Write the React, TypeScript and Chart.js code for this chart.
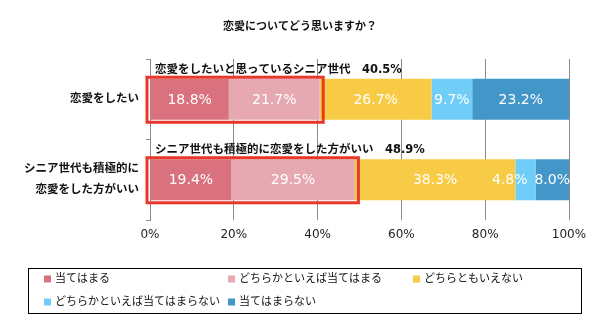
import React, { useEffect, useRef } from "react";
import { Chart, registerables } from "chart.js";

Chart.register(...registerables);

const titleText = "恋愛についてどう思いますか？";
const categories: string[][] = [["恋愛をしたい"], ["シニア世代も積極的に", "恋愛をした方がいい"]];
const seriesNames = [
  "当てはまる",
  "どちらかといえば当てはまる",
  "どちらともいえない",
  "どちらかといえば当てはまらない",
  "当てはまらない",
];
const atehamaru = [18.8, 19.4];
const dochirakaAtehamaru = [21.7, 29.5];
const dochiramoIenai = [26.7, 38.3];
const dochirakaAtehamaranai = [9.7, 4.8];
const atehamaranai = [23.2, 8.0];
const seriesColors = ["#D9727E", "#E6A9B2", "#F7CB46", "#70CDF8", "#4397C8"];
const xTickValues = [0, 20, 40, 60, 80, 100];
const highlightLabels = ["恋愛をしたいと思っているシニア世代", "シニア世代も積極的に恋愛をした方がいい"];

const FONT = '"DejaVu Sans", "Noto Sans CJK JP", sans-serif';

const overlayPlugin = {
  id: "overlay",
  afterDatasetsDraw(chart: any) {
    const ctx = chart.ctx;
    const area = chart.chartArea;
    ctx.save();

    // value labels
    ctx.font = `14px ${FONT}`;
    ctx.fillStyle = "#ffffff";
    ctx.textBaseline = "middle";
    chart.data.datasets.forEach((ds: any, di: number) => {
      const meta = chart.getDatasetMeta(di);
      meta.data.forEach((el: any, i: number) => {
        const p = el.getProps(["x", "y", "base"], true);
        const txt = ds.data[i].toFixed(1) + "%";
        const w = ctx.measureText(txt).width;
        const segW = Math.abs(p.x - p.base);
        if (w > segW + 5) {
          ctx.textAlign = "right";
          ctx.fillText(txt, Math.max(p.x, p.base) - 8, p.y + 1);
        } else {
          ctx.textAlign = "center";
          ctx.fillText(txt, (p.x + p.base) / 2, p.y + 1);
        }
      });
    });

    // highlight rectangles + annotations
    const m0 = chart.getDatasetMeta(0);
    const m1 = chart.getDatasetMeta(1);
    categories.forEach((_c, i) => {
      const a = m0.data[i].getProps(["x", "y", "base", "height"], true);
      const b = m1.data[i].getProps(["x", "y", "base", "height"], true);
      const top = a.y - a.height / 2;
      const bottom = a.y + a.height / 2;
      ctx.strokeStyle = "#E8382B";
      ctx.lineWidth = 3;
      ctx.strokeRect(a.base - 3.5, top - 1.5, b.x + 3.5 - (a.base - 3.5), bottom + 2.5 - (top - 1.5));

      const sum = atehamaru[i] + dochirakaAtehamaru[i];
      ctx.font = `bold 11.5px ${FONT}`;
      ctx.fillStyle = "#111111";
      ctx.textAlign = "left";
      ctx.textBaseline = "middle";
      ctx.fillText(highlightLabels[i] + "　" + sum.toFixed(1) + "%", area.left + 5, top - 9);
    });

    // title
    ctx.font = `bold 11px ${FONT}`;
    ctx.fillStyle = "#111111";
    ctx.textAlign = "center";
    ctx.textBaseline = "middle";
    ctx.fillText(titleText, 300, 27);

    // legend
    ctx.strokeStyle = "#000000";
    ctx.lineWidth = 1;
    ctx.strokeRect(28.5, 268.5, 553, 45);
    const cols = [44, 228, 413];
    const rows = [279, 302];
    ctx.font = `11px ${FONT}`;
    ctx.textAlign = "left";
    seriesNames.forEach((name, i) => {
      const cx = cols[i % 3];
      const cy = rows[Math.floor(i / 3)];
      ctx.fillStyle = seriesColors[i];
      ctx.fillRect(cx, cy - 3.5, 7, 7);
      ctx.fillStyle = "#111111";
      ctx.fillText(name, cx + 11, cy);
    });
    ctx.restore();
  },
};

export default function App() {
  const ref = useRef<HTMLCanvasElement>(null);
  useEffect(() => {
    if (!ref.current) return;
    const seriesData = [atehamaru, dochirakaAtehamaru, dochiramoIenai, dochirakaAtehamaranai, atehamaranai];
    const chart = new Chart(ref.current, {
      type: "bar",
      data: {
        labels: categories as any,
        datasets: seriesNames.map((name, i) => ({
          label: name,
          data: seriesData[i],
          backgroundColor: seriesColors[i],
          borderWidth: 0,
          categoryPercentage: 1,
          barPercentage: 0.51,
        })),
      },
      options: {
        indexAxis: "y",
        responsive: false,
        animation: false,
        layout: { padding: { top: 59, right: 31, bottom: 80, left: 0 } },
        plugins: { legend: { display: false }, title: { display: false }, tooltip: { enabled: false } },
        scales: {
          x: {
            stacked: true,
            min: 0,
            max: 100,
            afterBuildTicks: (s: any) => {
              s.ticks = xTickValues.map((v) => ({ value: v }));
            },
            afterFit: (s: any) => {
              s.height = 30;
            },
            grid: { color: "#8a8a8a", lineWidth: 1, drawTicks: false },
            border: { display: false },
            ticks: {
              padding: 8,
              color: "#222222",
              font: { family: FONT, size: 12 },
              callback: (v: any) => v + "%",
            },
          },
          y: {
            stacked: true,
            afterFit: (s: any) => {
              s.width = 150;
            },
            grid: { color: "#8a8a8a", drawOnChartArea: false, drawTicks: true, tickLength: 4 },
            border: { display: true, color: "#8a8a8a" },
            ticks: {
              padding: 7,
              color: "#111111",
              font: { family: FONT, size: 11.5, weight: "bold", lineHeight: 1.8 },
            },
          },
        },
      },
      plugins: [overlayPlugin],
    } as any);
    return () => chart.destroy();
  }, []);
  return (
    <div style={{ position: "fixed", left: 0, top: 0, width: 600, height: 330, background: "#fff" }}>
      <canvas ref={ref} width={600} height={330} style={{ display: "block" }} />
    </div>
  );
}
